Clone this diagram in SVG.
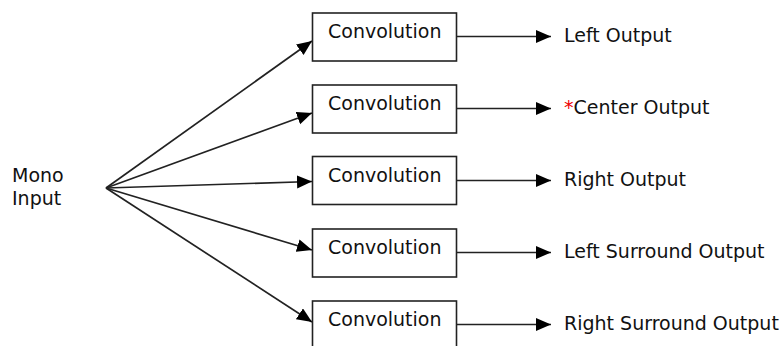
<svg xmlns="http://www.w3.org/2000/svg" width="782" height="346" viewBox="0 0 782 346">
<style>
.t{font-family:"DejaVu Sans",Verdana,sans-serif;font-size:19px;fill:#111}
.box{fill:#fff;stroke:#222;stroke-width:1.6}
.c{stroke:#222;stroke-width:1.7;fill:none}
</style>
<defs>
<marker id="ah" markerUnits="userSpaceOnUse" markerWidth="16" markerHeight="14" refX="15" refY="6.5" orient="auto">
<path d="M0,0 L15,6.5 L0,13 Z" fill="#000"/>
</marker>
</defs>
<rect width="782" height="346" fill="#fff"/>
<g id="connectors">
<line class="c" x1="106" y1="188" x2="312" y2="41" marker-end="url(#ah)"/>
<line class="c" x1="106" y1="188" x2="312" y2="113" marker-end="url(#ah)"/>
<line class="c" x1="106" y1="188" x2="312" y2="181.5" marker-end="url(#ah)"/>
<line class="c" x1="106" y1="188" x2="312" y2="250" marker-end="url(#ah)"/>
<line class="c" x1="106" y1="188" x2="312" y2="322" marker-end="url(#ah)"/>
<line class="c" x1="457" y1="36.5" x2="551" y2="36.5" marker-end="url(#ah)"/>
<line class="c" x1="457" y1="108.5" x2="551" y2="108.5" marker-end="url(#ah)"/>
<line class="c" x1="457" y1="180.5" x2="551" y2="180.5" marker-end="url(#ah)"/>
<line class="c" x1="457" y1="252.5" x2="551" y2="252.5" marker-end="url(#ah)"/>
<line class="c" x1="457" y1="324.5" x2="551" y2="324.5" marker-end="url(#ah)"/>
</g>
<g id="mono-input">
<text class="t" x="12" y="182">Mono</text>
<text class="t" x="12" y="205">Input</text>
</g>
<g id="conv1"><rect class="box" x="312.5" y="13" width="144" height="48"/><text class="t" x="328" y="38">Convolution</text></g>
<g id="conv2"><rect class="box" x="312.5" y="85" width="144" height="48"/><text class="t" x="328" y="110">Convolution</text></g>
<g id="conv3"><rect class="box" x="312.5" y="156.5" width="144" height="48"/><text class="t" x="328" y="182">Convolution</text></g>
<g id="conv4"><rect class="box" x="312.5" y="229" width="144" height="48"/><text class="t" x="328" y="254">Convolution</text></g>
<g id="conv5"><rect class="box" x="312.5" y="301" width="144" height="48"/><text class="t" x="328" y="326">Convolution</text></g>
<g id="out-left"><text class="t" x="564" y="42">Left Output</text></g>
<g id="out-center"><text class="t" x="564" y="114"><tspan fill="#e00">*</tspan>Center Output</text></g>
<g id="out-right"><text class="t" x="564" y="186">Right Output</text></g>
<g id="out-ls"><text class="t" x="564" y="258">Left Surround Output</text></g>
<g id="out-rs"><text class="t" x="564" y="330">Right Surround Output</text></g>
</svg>
